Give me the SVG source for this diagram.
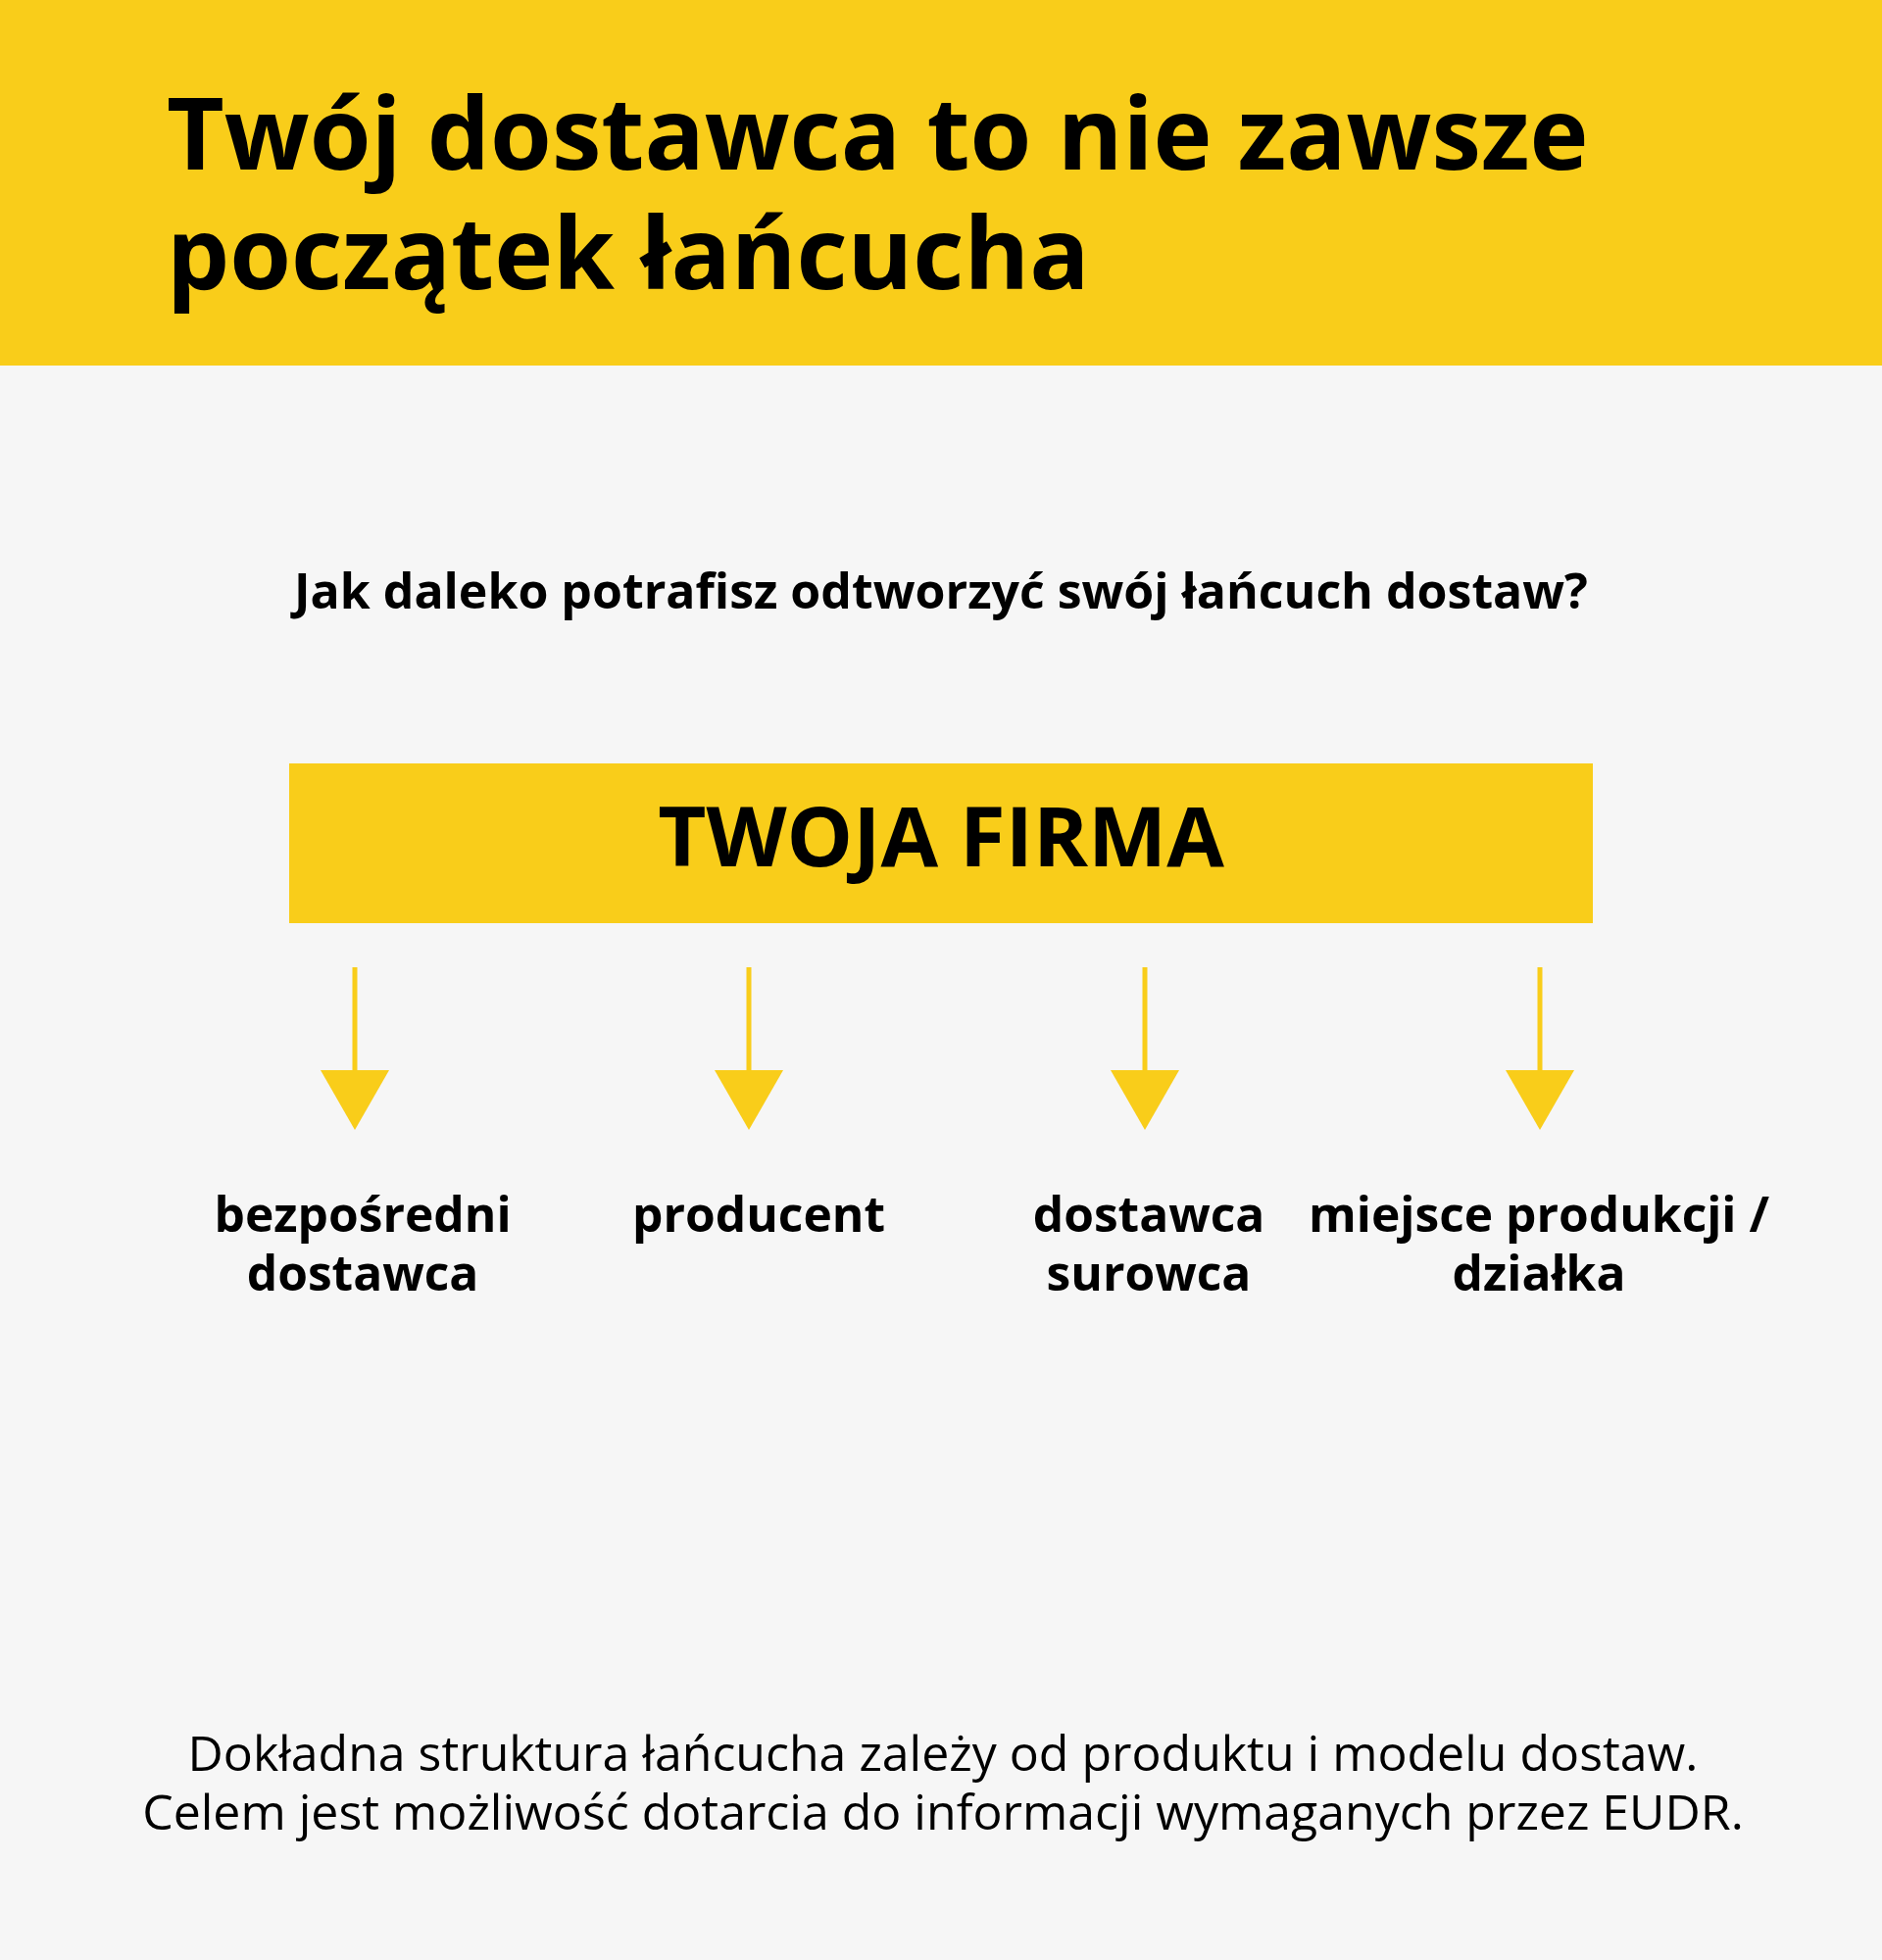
<svg xmlns="http://www.w3.org/2000/svg" width="1920" height="2000" viewBox="0 0 1920 2000">
<defs>
<style>
.t{font-family:"Open Sans","Noto Sans","DejaVu Sans",sans-serif;fill:#000;}
.b{font-weight:700;}
.lbl{font-size:49.7px;font-weight:700;text-anchor:middle;}
.arr{stroke:#F9CD1A;stroke-width:5;}
.head{fill:#F9CD1A;}
</style>
</defs>
<rect x="0" y="0" width="1920" height="2000" fill="#F6F6F6"/>
<g id="header">
<rect x="0" y="0" width="1920" height="373" fill="#F9CD1A"/>
<text class="t b" x="170" y="173" font-size="101.5">Twój dostawca to nie zawsze</text>
<text class="t b" x="170" y="295" font-size="101.5">początek łańcucha</text>
</g>
<g id="question">
<text class="t b" x="960" y="621" font-size="50" text-anchor="middle">Jak daleko potrafisz odtworzyć swój łańcuch dostaw?</text>
</g>
<g id="firma">
<rect x="295" y="779" width="1330" height="163" fill="#F9CD1A"/>
<text class="t b" x="960" y="884" font-size="85" text-anchor="middle">TWOJA FIRMA</text>
</g>
<g id="connectors">
<line class="arr" x1="362" y1="987" x2="362" y2="1095"/>
<polygon class="head" points="327,1092 397,1092 362,1153"/>
<line class="arr" x1="764" y1="987" x2="764" y2="1095"/>
<polygon class="head" points="729,1092 799,1092 764,1153"/>
<line class="arr" x1="1168" y1="987" x2="1168" y2="1095"/>
<polygon class="head" points="1133,1092 1203,1092 1168,1153"/>
<line class="arr" x1="1571" y1="987" x2="1571" y2="1095"/>
<polygon class="head" points="1536,1092 1606,1092 1571,1153"/>
</g>
<g id="n1"><text class="t lbl" x="370" y="1257">bezpośredni</text><text class="t lbl" x="370" y="1317">dostawca</text></g>
<g id="n2"><text class="t lbl" x="774" y="1257">producent</text></g>
<g id="n3"><text class="t lbl" x="1172" y="1257">dostawca</text><text class="t lbl" x="1172" y="1317">surowca</text></g>
<g id="n4"><text class="t lbl" x="1570" y="1257">miejsce produkcji /</text><text class="t lbl" x="1570" y="1317">działka</text></g>
<g id="footer">
<text class="t" x="962" y="1807" font-size="50" text-anchor="middle">Dokładna struktura łańcucha zależy od produktu i modelu dostaw.</text>
<text class="t" x="962" y="1867" font-size="50" text-anchor="middle">Celem jest możliwość dotarcia do informacji wymaganych przez EUDR.</text>
</g>
</svg>
